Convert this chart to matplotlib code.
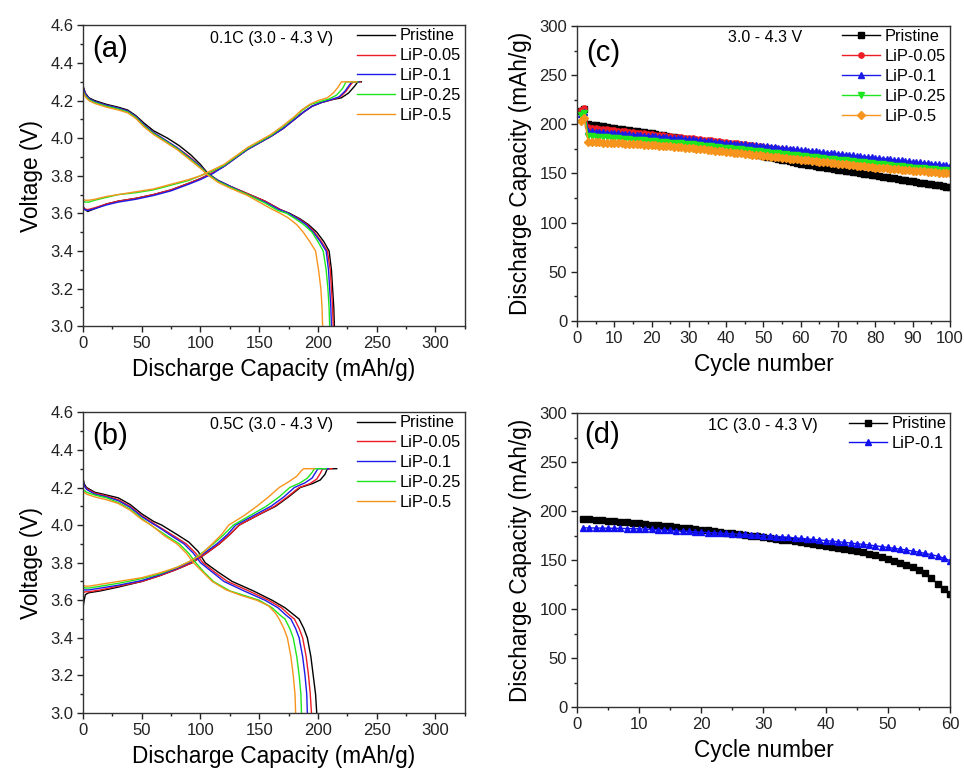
import numpy as np
import matplotlib.pyplot as plt
from matplotlib.ticker import MultipleLocator, FormatStrFormatter

plt.rcParams["font.family"] = ["Liberation Sans", "DejaVu Sans"]

labels = ["Pristine", "LiP-0.05", "LiP-0.1", "LiP-0.25", "LiP-0.5"]
colors = ["#000000", "#ee1c24", "#1c1ce8", "#1ee61e", "#f7941d"]
markers = ["s", "o", "^", "v", "D"]

# (a) 0.1C voltage profiles as (capacity mAh/g, voltage V)
a_dis_pristine = [(0, 4.28), (2, 4.24), (5, 4.215), (10, 4.20), (20, 4.18), (30, 4.165), (38, 4.15), (45, 4.12), (52, 4.08), (60, 4.04), (72, 4.00), (82, 3.96), (92, 3.91), (100, 3.86), (106, 3.815), (115, 3.775), (125, 3.745), (140, 3.705), (155, 3.665), (168, 3.62), (176, 3.60), (185, 3.57), (192, 3.54), (199, 3.50), (205, 3.45), (209.5, 3.40), (211.5, 3.30), (212.5, 3.20), (213.5, 3.10), (214, 3.00)]
a_dis_lip005 = [(0, 4.27), (2, 4.235), (5, 4.21), (10, 4.195), (20, 4.175), (30, 4.16), (38, 4.145), (45, 4.115), (52, 4.07), (60, 4.03), (70, 3.99), (80, 3.95), (90, 3.905), (100, 3.85), (106, 3.81), (115, 3.775), (125, 3.745), (140, 3.705), (155, 3.665), (168, 3.62), (175, 3.60), (184, 3.57), (191, 3.54), (197, 3.50), (203, 3.45), (208, 3.40), (210.5, 3.30), (211.5, 3.20), (212.5, 3.10), (213, 3.00)]
a_dis_lip01 = [(0, 4.27), (2, 4.235), (5, 4.21), (10, 4.195), (20, 4.175), (30, 4.16), (38, 4.145), (45, 4.115), (52, 4.07), (60, 4.03), (70, 3.99), (80, 3.95), (90, 3.90), (100, 3.85), (106, 3.81), (115, 3.775), (125, 3.745), (140, 3.70), (155, 3.66), (167, 3.62), (175, 3.60), (183, 3.57), (190, 3.54), (196, 3.50), (202, 3.45), (207, 3.40), (209, 3.30), (210, 3.20), (211, 3.10), (211.5, 3.00)]
a_dis_lip025 = [(0, 4.25), (2, 4.225), (5, 4.205), (10, 4.19), (20, 4.17), (30, 4.155), (38, 4.14), (45, 4.11), (52, 4.065), (60, 4.025), (70, 3.985), (80, 3.945), (90, 3.895), (100, 3.845), (106, 3.81), (115, 3.77), (125, 3.74), (140, 3.70), (155, 3.655), (166, 3.615), (173.5, 3.60), (181, 3.57), (188, 3.54), (195, 3.50), (200, 3.45), (204.5, 3.40), (207, 3.30), (208.5, 3.20), (209.5, 3.10), (210, 3.00)]
a_dis_lip05 = [(0, 4.25), (2, 4.22), (5, 4.20), (10, 4.185), (20, 4.165), (30, 4.15), (38, 4.135), (45, 4.105), (52, 4.06), (60, 4.02), (70, 3.98), (80, 3.94), (90, 3.89), (100, 3.84), (106, 3.805), (115, 3.765), (125, 3.735), (140, 3.695), (150, 3.66), (160, 3.625), (168, 3.60), (175, 3.575), (182, 3.54), (187.5, 3.50), (193, 3.45), (198, 3.40), (200.5, 3.30), (202.5, 3.20), (203.5, 3.10), (204, 3.00)]

a_chg_pristine = [(0, 3.64), (1, 3.625), (4, 3.61), (10, 3.625), (20, 3.65), (30, 3.665), (45, 3.68), (60, 3.70), (75, 3.725), (90, 3.76), (100, 3.785), (110, 3.815), (120, 3.85), (130, 3.895), (140, 3.94), (150, 3.975), (160, 4.01), (170, 4.05), (180, 4.10), (188, 4.14), (195, 4.17), (203, 4.19), (212, 4.205), (220, 4.215), (226, 4.24), (231, 4.275), (234, 4.30), (237, 4.30)]
a_chg_lip005 = [(0, 3.635), (1, 3.625), (4, 3.62), (10, 3.63), (20, 3.65), (30, 3.665), (45, 3.68), (60, 3.70), (75, 3.725), (90, 3.76), (100, 3.785), (110, 3.815), (120, 3.85), (130, 3.895), (140, 3.94), (150, 3.975), (160, 4.01), (170, 4.05), (180, 4.10), (188, 4.14), (195, 4.17), (203, 4.19), (212, 4.205), (219, 4.22), (224, 4.25), (228, 4.285), (230, 4.30), (236, 4.30)]
a_chg_lip01 = [(0, 3.64), (1, 3.62), (4, 3.615), (10, 3.625), (20, 3.645), (30, 3.66), (45, 3.675), (60, 3.695), (75, 3.72), (90, 3.755), (100, 3.78), (110, 3.81), (120, 3.85), (130, 3.895), (140, 3.94), (150, 3.975), (160, 4.01), (170, 4.05), (180, 4.10), (188, 4.14), (195, 4.17), (203, 4.19), (211, 4.205), (218, 4.22), (223, 4.25), (227, 4.285), (229, 4.30), (235, 4.30)]
a_chg_lip025 = [(0, 3.665), (2, 3.66), (5, 3.66), (10, 3.67), (20, 3.685), (30, 3.70), (45, 3.71), (60, 3.725), (75, 3.75), (90, 3.775), (100, 3.80), (110, 3.825), (120, 3.855), (130, 3.90), (140, 3.945), (150, 3.98), (160, 4.015), (170, 4.06), (180, 4.11), (187, 4.15), (194, 4.18), (202, 4.195), (210, 4.21), (216, 4.23), (221, 4.265), (224, 4.30), (234, 4.30)]
a_chg_lip05 = [(0, 3.675), (2, 3.67), (5, 3.67), (10, 3.675), (20, 3.69), (30, 3.70), (45, 3.715), (60, 3.73), (75, 3.755), (90, 3.78), (100, 3.80), (110, 3.83), (120, 3.86), (130, 3.905), (140, 3.95), (150, 3.985), (160, 4.02), (170, 4.065), (180, 4.115), (186, 4.15), (193, 4.18), (200, 4.20), (208, 4.215), (213, 4.24), (217, 4.27), (220, 4.30), (233, 4.30)]

# (b) 0.5C voltage profiles
b_dis_pristine = [(0, 4.25), (1, 4.22), (3, 4.20), (10, 4.175), (20, 4.16), (30, 4.145), (40, 4.11), (50, 4.06), (60, 4.02), (67, 4.00), (80, 3.95), (90, 3.91), (98, 3.86), (104, 3.80), (115, 3.75), (127, 3.70), (145, 3.65), (161, 3.60), (172, 3.56), (180, 3.52), (184, 3.50), (188, 3.45), (191, 3.40), (194, 3.30), (196, 3.20), (198, 3.10), (199, 3.00)]
b_dis_lip005 = [(0, 4.23), (1, 4.21), (3, 4.195), (10, 4.17), (20, 4.155), (30, 4.135), (40, 4.10), (50, 4.05), (60, 4.01), (65, 3.99), (78, 3.94), (88, 3.90), (96, 3.85), (102, 3.80), (112, 3.75), (123, 3.70), (141, 3.65), (158, 3.60), (169, 3.56), (176, 3.52), (180, 3.50), (184, 3.45), (187, 3.40), (190, 3.30), (192, 3.20), (193.5, 3.10), (194.5, 3.00)]
b_dis_lip01 = [(0, 4.24), (1, 4.21), (3, 4.19), (10, 4.165), (20, 4.15), (30, 4.13), (40, 4.095), (50, 4.045), (60, 4.005), (64, 3.99), (76, 3.94), (86, 3.90), (94, 3.85), (100, 3.80), (110, 3.75), (120, 3.70), (137, 3.65), (155, 3.60), (166, 3.56), (173, 3.52), (177, 3.50), (181, 3.45), (184, 3.40), (187, 3.30), (189, 3.20), (190.5, 3.10), (191, 3.00)]
b_dis_lip025 = [(0, 4.19), (1, 4.185), (3, 4.175), (10, 4.16), (20, 4.145), (30, 4.12), (40, 4.085), (50, 4.035), (60, 3.99), (72, 3.94), (82, 3.90), (90, 3.85), (96, 3.80), (103, 3.75), (111, 3.70), (125, 3.65), (150, 3.60), (161, 3.56), (168, 3.52), (172, 3.50), (176, 3.45), (179, 3.40), (182, 3.30), (184, 3.20), (185.5, 3.10), (186, 3.00)]
b_dis_lip05 = [(0, 4.18), (1, 4.175), (3, 4.165), (10, 4.15), (20, 4.135), (30, 4.115), (40, 4.08), (50, 4.03), (58, 4.00), (70, 3.94), (80, 3.90), (88, 3.85), (94, 3.80), (102, 3.75), (110, 3.70), (122, 3.655), (135, 3.625), (148, 3.60), (158, 3.57), (164, 3.53), (167, 3.50), (171, 3.45), (174, 3.40), (177, 3.30), (179, 3.20), (180.5, 3.10), (181, 3.00)]

b_chg_pristine = [(0, 3.56), (1, 3.60), (2, 3.63), (5, 3.64), (15, 3.65), (30, 3.67), (50, 3.70), (65, 3.73), (80, 3.765), (93, 3.80), (105, 3.85), (116, 3.90), (125, 3.95), (133, 4.00), (148, 4.05), (164, 4.10), (175, 4.15), (185, 4.20), (195, 4.22), (202, 4.24), (206, 4.27), (208, 4.30), (216, 4.30)]
b_chg_lip005 = [(0, 3.64), (2, 3.645), (5, 3.645), (15, 3.655), (30, 3.675), (50, 3.70), (65, 3.73), (80, 3.765), (93, 3.80), (105, 3.85), (116, 3.90), (125, 3.95), (133, 4.00), (148, 4.05), (163, 4.10), (174, 4.15), (184, 4.20), (193, 4.22), (199, 4.245), (202, 4.275), (204, 4.30), (212, 4.30)]
b_chg_lip01 = [(0, 3.655), (2, 3.655), (5, 3.655), (15, 3.665), (30, 3.68), (50, 3.705), (65, 3.735), (80, 3.77), (92, 3.805), (103, 3.85), (114, 3.90), (123, 3.95), (130, 4.00), (145, 4.05), (160, 4.10), (171, 4.15), (180, 4.20), (189, 4.225), (195, 4.25), (198, 4.28), (200, 4.30), (209, 4.30)]
b_chg_lip025 = [(0, 3.67), (2, 3.665), (5, 3.665), (15, 3.675), (30, 3.69), (50, 3.715), (65, 3.74), (80, 3.775), (92, 3.81), (102, 3.855), (112, 3.905), (120, 3.95), (128, 4.00), (142, 4.05), (156, 4.10), (167, 4.15), (176, 4.20), (185, 4.225), (191, 4.25), (195, 4.28), (197, 4.30), (207, 4.30)]
b_chg_lip05 = [(0, 3.68), (2, 3.675), (5, 3.675), (15, 3.685), (30, 3.70), (50, 3.72), (65, 3.745), (80, 3.775), (92, 3.81), (100, 3.84), (110, 3.90), (118, 3.95), (124, 4.00), (137, 4.05), (148, 4.10), (158, 4.15), (167, 4.20), (175, 4.23), (182, 4.26), (186, 4.29), (188, 4.30), (197, 4.30)]

# (c) cycling 3.0 - 4.3 V, discharge capacity per cycle (mAh/g)
c_cycles = list(range(1, 101))
c_pristine = [214.0, 216.0, 200.0, 199.5, 199.0, 198.4, 197.9, 197.3, 196.7, 196.1,
              195.6, 195.0, 194.5, 194.0, 193.5, 193.0, 192.5, 192.0, 191.5, 191.0,
              190.3, 189.6, 188.9, 188.2, 187.5, 186.8, 186.1, 185.4, 184.7, 184.0,
              183.2, 182.4, 181.6, 180.8, 180.0, 179.2, 178.4, 177.6, 176.8, 176.0,
              175.2, 174.4, 173.6, 172.8, 172.0, 171.2, 170.4, 169.6, 168.8, 168.0,
              167.2, 166.4, 165.6, 164.8, 164.0, 163.2, 162.4, 161.6, 160.8, 160.0,
              159.4, 158.8, 158.2, 157.6, 157.0, 156.4, 155.8, 155.2, 154.6, 154.0,
              153.4, 152.8, 152.2, 151.6, 151.0, 150.4, 149.8, 149.2, 148.6, 148.0,
              147.4, 146.8, 146.2, 145.6, 145.0, 144.4, 143.8, 143.2, 142.6, 142.0,
              141.4, 140.8, 140.2, 139.6, 139.0, 138.4, 137.8, 137.2, 136.6, 136.0]
c_lip005 = [214.5, 217.0, 197.0, 196.6, 196.1, 195.7, 195.3, 194.9, 194.4, 194.0,
            193.6, 193.2, 192.8, 192.4, 192.0, 191.6, 191.2, 190.8, 190.4, 190.0,
            189.6, 189.2, 188.8, 188.4, 188.0, 187.6, 187.2, 186.8, 186.4, 186.0,
            185.6, 185.2, 184.8, 184.4, 184.0, 183.6, 183.2, 182.8, 182.4, 182.0,
            181.5, 181.0, 180.5, 180.0, 179.5, 179.0, 178.5, 178.0, 177.5, 177.0,
            176.5, 176.0, 175.5, 175.0, 174.5, 174.0, 173.5, 173.0, 172.5, 172.0,
            171.5, 171.0, 170.5, 170.0, 169.5, 169.0, 168.5, 168.0, 167.5, 167.0,
            166.6, 166.2, 165.8, 165.4, 165.0, 164.6, 164.2, 163.8, 163.4, 163.0,
            162.6, 162.2, 161.8, 161.4, 161.0, 160.6, 160.2, 159.8, 159.4, 159.0,
            158.6, 158.2, 157.8, 157.4, 157.0, 156.6, 156.2, 155.8, 155.4, 155.0]
c_lip01 = [210.5, 213.0, 193.0, 192.7, 192.4, 192.1, 191.9, 191.6, 191.3, 191.0,
           190.7, 190.4, 190.1, 189.8, 189.5, 189.2, 188.9, 188.6, 188.3, 188.0,
           187.7, 187.4, 187.1, 186.8, 186.5, 186.2, 185.9, 185.6, 185.3, 185.0,
           184.6, 184.2, 183.8, 183.4, 183.0, 182.6, 182.2, 181.8, 181.4, 181.0,
           180.7, 180.4, 180.1, 179.8, 179.5, 179.2, 178.9, 178.6, 178.3, 178.0,
           177.6, 177.2, 176.8, 176.4, 176.0, 175.6, 175.2, 174.8, 174.4, 174.0,
           173.6, 173.2, 172.8, 172.4, 172.0, 171.6, 171.2, 170.8, 170.4, 170.0,
           169.6, 169.2, 168.8, 168.4, 168.0, 167.6, 167.2, 166.8, 166.4, 166.0,
           165.6, 165.2, 164.8, 164.4, 164.0, 163.6, 163.2, 162.8, 162.4, 162.0,
           161.6, 161.2, 160.8, 160.4, 160.0, 159.6, 159.2, 158.8, 158.4, 158.0]
c_lip025 = [209.0, 211.5, 188.0, 187.7, 187.4, 187.1, 186.9, 186.6, 186.3, 186.0,
            185.7, 185.4, 185.1, 184.8, 184.5, 184.2, 183.9, 183.6, 183.3, 183.0,
            182.7, 182.4, 182.1, 181.8, 181.5, 181.2, 180.9, 180.6, 180.3, 180.0,
            179.6, 179.2, 178.8, 178.4, 178.0, 177.6, 177.2, 176.8, 176.4, 176.0,
            175.6, 175.2, 174.8, 174.4, 174.0, 173.6, 173.2, 172.8, 172.4, 172.0,
            171.6, 171.2, 170.8, 170.4, 170.0, 169.6, 169.2, 168.8, 168.4, 168.0,
            167.6, 167.2, 166.8, 166.4, 166.0, 165.6, 165.2, 164.8, 164.4, 164.0,
            163.6, 163.2, 162.8, 162.4, 162.0, 161.6, 161.2, 160.8, 160.4, 160.0,
            159.6, 159.2, 158.8, 158.4, 158.0, 157.6, 157.2, 156.8, 156.4, 156.0,
            155.7, 155.4, 155.1, 154.8, 154.5, 154.2, 153.9, 153.6, 153.3, 153.0]
c_lip05 = [203.0, 206.0, 182.0, 181.9, 181.7, 181.6, 181.4, 181.3, 181.1, 181.0,
           180.8, 180.6, 180.4, 180.2, 180.0, 179.8, 179.6, 179.4, 179.2, 179.0,
           178.7, 178.4, 178.1, 177.8, 177.5, 177.2, 176.9, 176.6, 176.3, 176.0,
           175.6, 175.2, 174.8, 174.4, 174.0, 173.6, 173.2, 172.8, 172.4, 172.0,
           171.6, 171.2, 170.8, 170.4, 170.0, 169.6, 169.2, 168.8, 168.4, 168.0,
           167.6, 167.2, 166.8, 166.4, 166.0, 165.6, 165.2, 164.8, 164.4, 164.0,
           163.6, 163.2, 162.8, 162.4, 162.0, 161.6, 161.2, 160.8, 160.4, 160.0,
           159.6, 159.2, 158.8, 158.4, 158.0, 157.6, 157.2, 156.8, 156.4, 156.0,
           155.7, 155.4, 155.1, 154.8, 154.5, 154.2, 153.9, 153.6, 153.3, 153.0,
           152.7, 152.4, 152.1, 151.8, 151.5, 151.2, 150.9, 150.6, 150.3, 150.0]

# (d) cycling at 1C
d_cycles = list(range(1, 61))
d_pristine = [192.0, 191.6, 191.1, 190.6, 190.1, 189.6, 189.1, 188.6, 188.1, 187.5,
              186.9, 186.3, 185.7, 185.1, 184.5, 183.8, 183.2, 182.5, 181.8, 181.1,
              180.4, 179.7, 179.0, 178.2, 177.5, 176.7, 175.9, 175.1, 174.3, 173.5,
              172.7, 171.8, 171.0, 170.1, 169.2, 168.3, 167.4, 166.4, 165.5, 164.5,
              163.5, 162.4, 161.3, 160.2, 159.1, 157.8, 156.4, 155.0, 153.3, 151.5,
              149.6, 147.5, 145.3, 143.0, 140.3, 136.7, 131.5, 126.0, 120.5, 115.0]
d_lip01 = [183.0, 182.9, 182.8, 182.7, 182.6, 182.5, 182.4, 182.3, 182.1, 182.0,
           181.7, 181.4, 181.0, 180.7, 180.4, 180.0, 179.7, 179.3, 178.9, 178.5,
           178.2, 177.9, 177.5, 177.2, 176.9, 176.5, 176.2, 175.8, 175.4, 175.0,
           174.6, 174.1, 173.7, 173.2, 172.7, 172.2, 171.7, 171.1, 170.6, 170.0,
           169.4, 168.8, 168.1, 167.5, 166.8, 166.1, 165.4, 164.6, 163.8, 163.0,
           162.1, 161.2, 160.3, 159.2, 158.1, 156.9, 155.6, 154.1, 152.0, 149.5]

a_discharge = [a_dis_pristine, a_dis_lip005, a_dis_lip01, a_dis_lip025, a_dis_lip05]
a_charge = [a_chg_pristine, a_chg_lip005, a_chg_lip01, a_chg_lip025, a_chg_lip05]
b_discharge = [b_dis_pristine, b_dis_lip005, b_dis_lip01, b_dis_lip025, b_dis_lip05]
b_charge = [b_chg_pristine, b_chg_lip005, b_chg_lip01, b_chg_lip025, b_chg_lip05]
c_series = [c_pristine, c_lip005, c_lip01, c_lip025, c_lip05]

TICK_FS = 12
LABEL_FS = 16.3
LEG_FS = 11.8
NOTE_FS = 11.5
TAG_FS = 21


def style_axes(ax, xmax, xmaj, xmin, ylo, yhi, ymaj, ymin):
    ax.set_xlim(0, xmax)
    ax.set_ylim(ylo, yhi)
    ax.xaxis.set_major_locator(MultipleLocator(xmaj))
    ax.xaxis.set_minor_locator(MultipleLocator(xmin))
    ax.yaxis.set_major_locator(MultipleLocator(ymaj))
    ax.yaxis.set_minor_locator(MultipleLocator(ymin))
    ax.tick_params(which="both", direction="out", top=False, right=False,
                   labelsize=TICK_FS, width=1.0, colors="#222222")
    ax.tick_params(which="major", length=4.5, pad=2.5)
    ax.tick_params(which="minor", length=2.5)
    for s in ax.spines.values():
        s.set_linewidth(1.0)
        s.set_color("#333333")


def add_legend(ax):
    ax.legend(loc="upper right", frameon=False, fontsize=LEG_FS, handlelength=2.3,
              handletextpad=0.3, labelspacing=0.3, borderaxespad=0.0,
              bbox_to_anchor=(1.008, 1.012))


def profile_panel(ax, discharge, charge, tag, note):
    for dis, chg, col, lab in zip(discharge, charge, colors, labels):
        ax.plot([p[0] for p in dis], [p[1] for p in dis], color=col, lw=1.0, label=lab)
        ax.plot([p[0] for p in chg], [p[1] for p in chg], color=col, lw=1.0)
    style_axes(ax, 325, 50, 25, 3.0, 4.6, 0.2, 0.1)
    ax.yaxis.set_major_formatter(FormatStrFormatter("%.1f"))
    ax.set_xlabel("Discharge Capacity (mAh/g)", fontsize=LABEL_FS, labelpad=5)
    ax.set_ylabel("Voltage (V)", fontsize=LABEL_FS, labelpad=5)
    ax.text(0.025, 0.92, tag, transform=ax.transAxes, fontsize=TAG_FS, va="center")
    ax.text(0.495, 0.958, note, transform=ax.transAxes, fontsize=NOTE_FS, ha="center", va="center")
    add_legend(ax)


fig = plt.figure(figsize=(9.64, 7.71), dpi=100)
ax_a = fig.add_axes([0.0861, 0.577, 0.396, 0.390])
ax_b = fig.add_axes([0.0861, 0.0752, 0.396, 0.390])
ax_c = fig.add_axes([0.5985, 0.5837, 0.387, 0.3826])
ax_d = fig.add_axes([0.5985, 0.083, 0.387, 0.381])

profile_panel(ax_a, a_discharge, a_charge, "(a)", "0.1C (3.0 - 4.3 V)")
profile_panel(ax_b, b_discharge, b_charge, "(b)", "0.5C (3.0 - 4.3 V)")

for vals, col, mk, lab in zip(c_series, colors, markers, labels):
    ax_c.plot(c_cycles, vals, color=col, marker=mk, ms=3.8, lw=1.0, label=lab)
style_axes(ax_c, 100, 10, 5, 0, 300, 50, 25)
ax_c.set_xlabel("Cycle number", fontsize=LABEL_FS, labelpad=5)
ax_c.set_ylabel("Discharge Capacity (mAh/g)", fontsize=LABEL_FS, labelpad=5)
ax_c.text(0.025, 0.91, "(c)", transform=ax_c.transAxes, fontsize=TAG_FS, va="center")
ax_c.text(0.504, 0.96, "3.0 - 4.3 V", transform=ax_c.transAxes, fontsize=NOTE_FS, ha="center", va="center")
add_legend(ax_c)

ax_d.plot(d_cycles, d_pristine, color=colors[0], marker="s", ms=3.8, lw=1.0, label="Pristine")
ax_d.plot(d_cycles, d_lip01, color="#1010f0", marker="^", ms=4.3, lw=1.0, label="LiP-0.1")
style_axes(ax_d, 60, 10, 5, 0, 300, 50, 25)
ax_d.set_xlabel("Cycle number", fontsize=LABEL_FS, labelpad=5)
ax_d.set_ylabel("Discharge Capacity (mAh/g)", fontsize=LABEL_FS, labelpad=5)
ax_d.text(0.02, 0.925, "(d)", transform=ax_d.transAxes, fontsize=TAG_FS, va="center")
ax_d.text(0.499, 0.96, "1C (3.0 - 4.3 V)", transform=ax_d.transAxes, fontsize=NOTE_FS, ha="center", va="center")
add_legend(ax_d)

fig.savefig("out.png", dpi=100)
